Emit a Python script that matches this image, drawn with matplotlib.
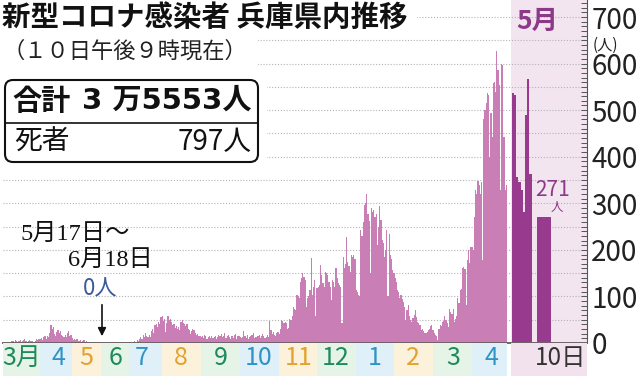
import numpy as np
import matplotlib.pyplot as plt
from matplotlib.patches import FancyBboxPatch, Rectangle
from matplotlib.ticker import MultipleLocator

plt.rcParams['font.family'] = ['Noto Sans CJK JP', 'DejaVu Sans']

# Daily new cases in Hyogo, starting 2020-03-01
mar20 = [0, 0, 1, 1, 2, 0, 3, 4, 5, 3, 6, 4, 2, 5, 7, 3, 4, 6, 8, 5, 3, 4, 6, 5, 4, 2, 3, 5, 8, 6, 9]
apr20 = [8, 10, 7, 12, 14, 9, 16, 12, 22, 39, 30, 34, 20, 15, 24, 28, 22, 26, 18, 14,
         12, 17, 13, 22, 25, 15, 18, 10, 7, 9]
may20 = [6, 8, 5, 4, 7, 3, 5, 6, 2, 4, 3, 1, 2, 3, 1, 1, 0, 0, 0, 0, 0, 0, 0, 0, 0, 0,
         0, 0, 0, 0, 0]
jun20 = [0, 0, 0, 0, 0, 0, 0, 0, 0, 0, 0, 0, 0, 0, 0, 0, 0, 0, 2, 4, 3, 6, 5, 9, 13, 8,
         18, 12, 21, 14]
jul20 = [13, 18, 12, 25, 29, 22, 38, 41, 35, 45, 40, 55, 59, 48, 52, 24, 44, 57, 50, 52,
         46, 38, 41, 33, 36, 30, 34, 28, 46, 50, 44]
aug20 = [40, 36, 41, 30, 27, 20, 25, 31, 28, 22, 18, 20, 14, 16, 12, 15, 11, 17, 14, 9,
         13, 16, 11, 14, 10, 12, 15, 9, 13, 17, 14]
sep20 = [19, 12, 16, 21, 10, 14, 18, 13, 8, 15, 11, 17, 20, 9, 14, 16, 12, 10, 13, 25,
         15, 11, 17, 9, 12, 14, 18, 22, 10, 13]
oct20 = [12, 15, 18, 11, 14, 20, 16, 10, 13, 17, 12, 47, 27, 20, 24, 18, 15, 22, 24, 19,
         30, 49, 47, 42, 46, 44, 31, 33, 52, 50, 57]
nov20 = [78, 74, 70, 103, 100, 96, 132, 140, 150, 142, 135, 78, 96, 100, 114, 182, 103,
         120, 135, 57, 118, 121, 125, 168, 146, 128, 120, 153, 150, 146]
dec20 = [132, 120, 92, 135, 130, 121, 160, 140, 128, 125, 120, 42, 185, 160, 170, 228,
         175, 165, 153, 189, 185, 189, 180, 114, 110, 103, 100, 243, 230, 260, 296]
jan21 = [300, 321, 278, 262, 150, 289, 282, 286, 270, 278, 210, 250, 294, 265, 221, 215,
         185, 200, 243, 100, 235, 190, 180, 157, 150, 140, 132, 114, 110, 96, 103]
feb21 = [95, 89, 78, 49, 70, 82, 57, 50, 46, 53, 60, 71, 55, 46, 42, 39, 28, 29, 25, 22,
         21, 24, 27, 31, 36, 39, 28, 21]
mar21 = [18, 14, 6, 30, 39, 37, 46, 48, 57, 49, 42, 35, 74, 67, 62, 74, 46, 52, 57, 96,
         85, 114, 117, 160, 164, 158, 82, 178, 200, 171, 207]
apr21 = [207, 200, 270, 329, 320, 347, 340, 321, 346, 178, 480, 500, 515, 536, 533, 400,
         493, 443, 558, 561, 540, 626, 586, 554, 329, 600, 597, 443, 329, 340]
may21 = [536, 532, 357, 346, 328, 282, 489, 566, 363]   # May 1-9
may10 = 271

months = ['3月', '4', '5', '6', '7', '8', '9', '10', '11', '12', '1', '2', '3', '4']

daily = (mar20 + apr20 + may20 + jun20 + jul20 + aug20 + sep20 + oct20 + nov20 + dec20
         + jan21 + feb21 + mar21 + apr21)

# ---- layout (pixels of the 640x376 picture) ----
W, H = 640, 376
PX = 1.183                      # pixels per day
x_right = 584 / PX - 0.5
label_x = [15, 46, 70, 95, 117, 150, 184, 216, 249, 281, 314, 346, 380, 412]
green, blue, orange = '#1d8a5c', '#2f93c6', '#e3a12f'
label_col = [green, blue, orange] * 5
band_col = {green: '#e6f4e8', blue: '#e0f0f8', orange: '#fcf2db'}
bar_col = '#c97fb6'
may_col = '#983a8d'
purple_txt = '#8c3a88'

fig = plt.figure(figsize=(6.4, 3.76), dpi=100)
ax = fig.add_axes([3 / W, 33 / H, 584 / W, 343 / H])
ax.set_xlim(-0.5, x_right)
ax.set_ylim(0, 343 / 0.4657)

may_left = len(daily) + 3.5
may_w = 2.22 / PX
may_x = may_left + may_w * (np.arange(len(may21)) + 0.5)
may10_w = 14 / PX
may10_x = may_left + may_w * len(may21) + 4.5 + may10_w / 2

ax.axvspan(may_left - 0.5, x_right, color='#f3e5f0', lw=0, zorder=0)
for g in range(50, 701, 50):
    ax.axhline(g, color='#b3b3b3', lw=0.8, ls=(0, (1, 1.6)), zorder=1)

ax.bar(np.arange(len(daily)), daily, width=1.0, color=bar_col, lw=0, zorder=2)
ax.bar(may_x, may21, width=may_w, color=may_col, lw=0, zorder=2)
ax.bar([may10_x], [may10], width=may10_w, color=may_col, lw=0, zorder=2)

for s in ['left', 'top']:
    ax.spines[s].set_visible(False)
ax.spines['right'].set_color('#555555')
ax.spines['bottom'].set_color('#6e6468')
ax.spines['bottom'].set_linewidth(1.4)
ax.set_xticks([])
ax.yaxis.tick_right()
ax.set_yticks(range(0, 701, 100))
ax.yaxis.set_minor_locator(MultipleLocator(10))
ax.tick_params(axis='y', which='both', direction='in', length=4, width=0.7,
               color='#555555', labelsize=20, pad=3, labelcolor='#222222')

# month strip under the axis
axm = fig.add_axes([3 / W, 0, 584 / W, 33 / H], sharex=ax)
axm.set_ylim(0, 1)
axm.axis('off')
edges = [-0.5] + [(a + b) / 2 for a, b in zip(label_x[:-1], label_x[1:])] + [len(daily) - 0.5]
for i, (m, c) in enumerate(zip(months, label_col)):
    axm.axvspan(edges[i], edges[i + 1], color=band_col[c], lw=0)
    axm.text(label_x[i], 0.55, m, color=c, fontsize=18, ha='center', va='center')
axm.axvspan(may_left - 0.5, x_right, color='#f2e2ee', lw=0)
axm.text(may10_x - may10_w / 2 - 1.7, 0.55, '10日', color='#333333', fontsize=17.5,
         ha='left', va='center')

# overlay in pixel coordinates for titles and notes
ov = fig.add_axes([0, 0, 1, 1], zorder=5)
ov.set_xlim(0, W)
ov.set_ylim(H, 0)
ov.axis('off')
ov.add_patch(Rectangle((0, 0), 417, 31, color='white', lw=0))
ov.add_patch(Rectangle((0, 31), 258, 37, color='white', lw=0))
ov.add_patch(Rectangle((0, 68), 267, 102, color='white', lw=0))
ov.text(2, 18, '新型コロナ感染者 兵庫県内推移', fontsize=20.5, fontweight='bold',
        va='center', ha='left', color='#111111')
ov.text(2, 51, '（１０日午後９時現在）', fontsize=16, va='center', ha='left',
        color='#222222')

ov.add_patch(FancyBboxPatch((5, 80), 253, 82, boxstyle='round,pad=0,rounding_size=8',
                            facecolor='white', edgecolor='#111111', lw=1.5))
ov.plot([5, 258], [123, 123], color='#111111', lw=1.2)
ov.text(12, 101, '合計', fontsize=21, fontweight='bold', va='center', color='#111111')
ov.text(252, 101, '3 万5553人', fontsize=21, fontweight='bold', va='center', ha='right',
        family=['DejaVu Sans', 'Noto Sans CJK JP'], color='#111111')
ov.text(14, 142, '死者', fontsize=20, va='center', color='#111111')
ov.text(252, 142, '797人', fontsize=20, va='center', ha='right', color='#111111')

ov.text(537, 21, '5月', fontsize=19, fontweight='bold', color=purple_txt,
        ha='center', va='center')
ov.text(605, 45, '(人)', fontsize=11, ha='center', va='center', color='#222222')

serif = ['Liberation Serif', 'Noto Sans CJK JP']
ov.text(20, 234, '5月17日～', family=serif, fontsize=17.5, va='center', color='#111111')
ov.text(68, 260, '6月18日', family=serif, fontsize=17.5, va='center', color='#111111')
ov.text(100, 289, '0人', fontsize=16, ha='center', va='center', color='#3b5b9b')
ov.annotate('', xy=(102, 339), xytext=(102, 302),
            arrowprops=dict(arrowstyle='-|>', color='#111111', lw=1.2, mutation_scale=12))

ov.text(553, 190, '271', fontsize=15, ha='center', va='center', color=purple_txt)
ov.text(557, 207, '人', fontsize=9, ha='center', va='center', color=purple_txt)

fig.savefig('out.png', dpi=100)
